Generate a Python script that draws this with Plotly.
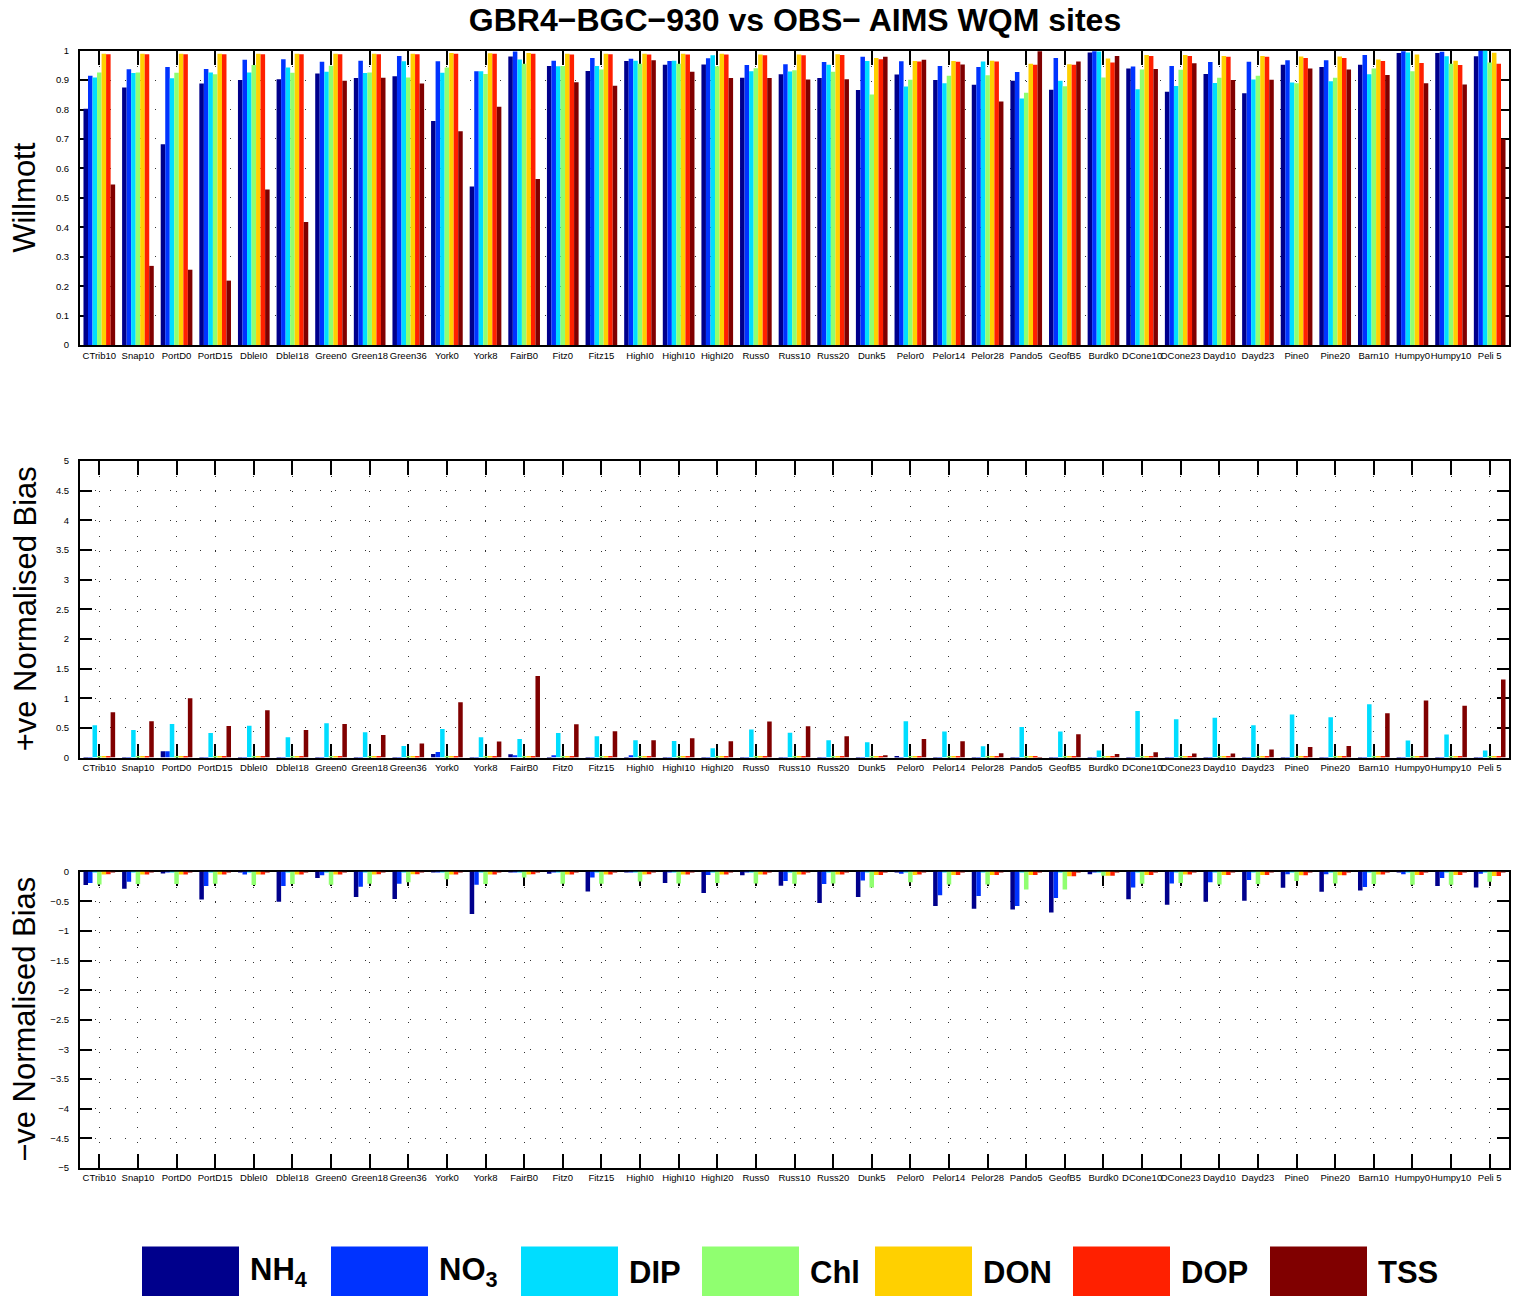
import plotly.graph_objects as go

# ---------------------------------------------------------------- data
sites = ["CTrib10", "Snap10", "PortD0", "PortD15", "DbleI0", "DbleI18", "Green0",
         "Green18", "Green36", "York0", "York8", "FairB0", "Fitz0", "Fitz15",
         "HighI0", "HighI10", "HighI20", "Russ0", "Russ10", "Russ20", "Dunk5",
         "Pelor0", "Pelor14", "Pelor28", "Pando5", "GeofB5", "Burdk0", "DCone10",
         "DCone23", "Dayd10", "Dayd23", "Pine0", "Pine20", "Barn10", "Humpy0",
         "Humpy10", "Peli 5"]

variables = ["NH<sub>4</sub>", "NO<sub>3</sub>", "DIP", "Chl", "DON", "DOP", "TSS"]

# Willmott skill score
will_nh4 = [0.803, 0.875, 0.682, 0.888, 0.900, 0.903, 0.922, 0.907, 0.913, 0.761, 0.539, 0.980, 0.948,
            0.931, 0.965, 0.952, 0.953, 0.908, 0.920, 0.907, 0.866, 0.919, 0.900, 0.884, 0.898, 0.867,
            0.994, 0.939, 0.860, 0.921, 0.855, 0.952, 0.944, 0.952, 0.992, 0.992, 0.981]
will_no3 = [0.915, 0.937, 0.944, 0.938, 0.969, 0.971, 0.962, 0.966, 0.982, 0.964, 0.930, 0.997, 0.966,
            0.975, 0.972, 0.965, 0.974, 0.951, 0.954, 0.961, 0.979, 0.964, 0.948, 0.944, 0.927, 0.975,
            0.998, 0.946, 0.948, 0.961, 0.962, 0.967, 0.967, 0.985, 0.998, 0.996, 1.000]
will_dip = [0.909, 0.924, 0.906, 0.926, 0.926, 0.943, 0.928, 0.924, 0.964, 0.925, 0.930, 0.970, 0.947,
            0.948, 0.966, 0.966, 0.984, 0.930, 0.929, 0.952, 0.965, 0.878, 0.889, 0.963, 0.837, 0.898,
            0.997, 0.869, 0.880, 0.890, 0.902, 0.892, 0.896, 0.920, 0.994, 0.981, 1.000]
will_chl = [0.926, 0.926, 0.925, 0.920, 0.951, 0.925, 0.949, 0.926, 0.909, 0.943, 0.921, 0.955, 0.948,
            0.936, 0.955, 0.955, 0.947, 0.940, 0.933, 0.928, 0.851, 0.901, 0.915, 0.916, 0.857, 0.879,
            0.909, 0.936, 0.935, 0.908, 0.915, 0.889, 0.908, 0.939, 0.930, 0.955, 0.960]
will_don = [0.989, 0.989, 0.989, 0.989, 0.989, 0.989, 0.989, 0.989, 0.989, 0.992, 0.991, 0.992, 0.989,
            0.989, 0.989, 0.989, 0.989, 0.987, 0.987, 0.988, 0.975, 0.965, 0.965, 0.966, 0.955, 0.954,
            0.973, 0.985, 0.985, 0.982, 0.982, 0.980, 0.980, 0.970, 0.987, 0.966, 0.993]
will_dop = [0.988, 0.988, 0.988, 0.988, 0.988, 0.988, 0.988, 0.988, 0.988, 0.989, 0.989, 0.989, 0.987,
            0.988, 0.987, 0.987, 0.987, 0.984, 0.984, 0.985, 0.971, 0.963, 0.962, 0.963, 0.952, 0.952,
            0.960, 0.982, 0.982, 0.979, 0.979, 0.975, 0.975, 0.965, 0.958, 0.951, 0.955]
will_tss = [0.545, 0.269, 0.256, 0.219, 0.528, 0.418, 0.898, 0.908, 0.888, 0.726, 0.809, 0.564, 0.893,
            0.881, 0.967, 0.928, 0.907, 0.907, 0.902, 0.903, 0.979, 0.969, 0.953, 0.827, 0.998, 0.963,
            0.982, 0.938, 0.957, 0.900, 0.901, 0.939, 0.936, 0.917, 0.889, 0.885, 0.699]

# positive normalised bias
pos_nh4 = [0.005, 0.005, 0.107, 0.005, 0.005, 0.005, 0.005, 0.005, 0.005, 0.062, 0.005, 0.056, 0.005,
           0.005, 0.005, 0.005, 0.005, 0.005, 0.005, 0.005, 0.005, 0.028, 0.005, 0.005, 0.005, 0.005,
           0.005, 0.005, 0.005, 0.005, 0.005, 0.005, 0.005, 0.005, 0.005, 0.005, 0.005]
pos_no3 = [0.008, 0.005, 0.107, 0.005, 0.005, 0.005, 0.005, 0.005, 0.005, 0.096, 0.005, 0.040, 0.040,
           0.005, 0.040, 0.005, 0.005, 0.005, 0.005, 0.005, 0.005, 0.005, 0.005, 0.005, 0.005, 0.005,
           0.005, 0.005, 0.005, 0.005, 0.005, 0.005, 0.005, 0.005, 0.005, 0.005, 0.005]
pos_dip = [0.545, 0.466, 0.567, 0.416, 0.539, 0.343, 0.579, 0.427, 0.197, 0.483, 0.343, 0.315, 0.416,
           0.360, 0.292, 0.281, 0.157, 0.472, 0.421, 0.292, 0.258, 0.612, 0.438, 0.191, 0.517, 0.438,
           0.118, 0.787, 0.646, 0.674, 0.545, 0.725, 0.680, 0.899, 0.287, 0.388, 0.118]
pos_chl = [0.010, 0.010, 0.010, 0.010, 0.010, 0.010, 0.010, 0.010, 0.010, 0.010, 0.010, 0.010, 0.010,
           0.010, 0.010, 0.010, 0.010, 0.010, 0.010, 0.010, 0.010, 0.010, 0.010, 0.010, 0.010, 0.010,
           0.010, 0.010, 0.010, 0.010, 0.010, 0.010, 0.010, 0.010, 0.010, 0.010, 0.010]
pos_don = [0.010, 0.010, 0.010, 0.010, 0.010, 0.010, 0.010, 0.010, 0.010, 0.010, 0.010, 0.010, 0.010,
           0.010, 0.010, 0.010, 0.010, 0.010, 0.010, 0.010, 0.010, 0.010, 0.010, 0.010, 0.010, 0.010,
           0.010, 0.010, 0.010, 0.010, 0.010, 0.010, 0.010, 0.010, 0.010, 0.010, 0.010]
pos_dop = [0.010, 0.010, 0.010, 0.010, 0.010, 0.010, 0.010, 0.010, 0.010, 0.010, 0.010, 0.010, 0.010,
           0.010, 0.010, 0.010, 0.010, 0.010, 0.010, 0.010, 0.010, 0.010, 0.010, 0.010, 0.010, 0.010,
           0.010, 0.010, 0.010, 0.010, 0.010, 0.010, 0.010, 0.010, 0.010, 0.010, 0.010]
pos_tss = [0.764, 0.612, 1.000, 0.534, 0.798, 0.466, 0.567, 0.382, 0.236, 0.933, 0.270, 1.376, 0.562,
           0.444, 0.292, 0.326, 0.275, 0.607, 0.528, 0.360, 0.040, 0.315, 0.275, 0.073, 0.005, 0.393,
           0.062, 0.090, 0.067, 0.067, 0.135, 0.180, 0.197, 0.747, 0.961, 0.876, 1.315]

# negative normalised bias
neg_nh4 = [-0.227, -0.290, -0.017, -0.470, -0.010, -0.510, -0.108, -0.430, -0.460, -0.010, -0.716, -0.005,
           -0.034, -0.335, -0.010, -0.190, -0.360, -0.062, -0.240, -0.530, -0.426, -0.010, -0.580, -0.625,
           -0.640, -0.690, -0.045, -0.466, -0.557, -0.510, -0.490, -0.273, -0.340, -0.320, -0.010, -0.244,
           -0.267]
neg_no3 = [-0.193, -0.170, -0.010, -0.244, -0.050, -0.244, -0.062, -0.256, -0.205, -0.010, -0.220, -0.010,
           -0.010, -0.100, -0.010, -0.010, -0.057, -0.010, -0.160, -0.210, -0.148, -0.034, -0.400, -0.410,
           -0.580, -0.443, -0.010, -0.267, -0.200, -0.180, -0.142, -0.045, -0.045, -0.260, -0.045, -0.108,
           -0.034]
neg_dip = [-0.012, -0.012, -0.012, -0.012, -0.012, -0.012, -0.012, -0.012, -0.012, -0.012, -0.012, -0.012,
           -0.012, -0.012, -0.012, -0.012, -0.012, -0.012, -0.012, -0.012, -0.012, -0.012, -0.012, -0.012,
           -0.012, -0.012, -0.012, -0.012, -0.012, -0.012, -0.012, -0.012, -0.012, -0.012, -0.012, -0.012,
           -0.012]
neg_chl = [-0.216, -0.210, -0.210, -0.205, -0.227, -0.210, -0.220, -0.205, -0.180, -0.130, -0.210, -0.100,
           -0.205, -0.205, -0.165, -0.200, -0.190, -0.200, -0.205, -0.200, -0.267, -0.180, -0.216, -0.216,
           -0.300, -0.300, -0.068, -0.205, -0.193, -0.216, -0.210, -0.160, -0.200, -0.210, -0.220, -0.220,
           -0.170]
neg_don = [-0.050, -0.050, -0.050, -0.050, -0.050, -0.050, -0.050, -0.050, -0.045, -0.050, -0.048, -0.050,
           -0.048, -0.048, -0.050, -0.048, -0.048, -0.050, -0.048, -0.048, -0.055, -0.055, -0.055, -0.055,
           -0.055, -0.080, -0.070, -0.055, -0.050, -0.055, -0.055, -0.060, -0.060, -0.050, -0.055, -0.055,
           -0.075]
neg_dop = [-0.045, -0.050, -0.050, -0.050, -0.050, -0.050, -0.050, -0.045, -0.045, -0.050, -0.048, -0.045,
           -0.048, -0.048, -0.045, -0.048, -0.048, -0.050, -0.048, -0.048, -0.055, -0.050, -0.055, -0.055,
           -0.055, -0.080, -0.070, -0.055, -0.050, -0.055, -0.055, -0.060, -0.060, -0.050, -0.055, -0.055,
           -0.075]
neg_tss = [-0.005, -0.005, -0.005, -0.005, -0.005, -0.005, -0.005, -0.005, -0.005, -0.005, -0.005, -0.005,
           -0.005, -0.005, -0.005, -0.005, -0.005, -0.005, -0.005, -0.005, -0.005, -0.005, -0.005, -0.005,
           -0.005, -0.005, -0.005, -0.005, -0.005, -0.005, -0.005, -0.005, -0.005, -0.005, -0.005, -0.005,
           -0.005]

willmott = [will_nh4, will_no3, will_dip, will_chl, will_don, will_dop, will_tss]
pos_bias = [pos_nh4, pos_no3, pos_dip, pos_chl, pos_don, pos_dop, pos_tss]
neg_bias = [neg_nh4, neg_no3, neg_dip, neg_chl, neg_don, neg_dop, neg_tss]

# ---------------------------------------------------------------- style
jet7 = ["#00008c", "#0033ff", "#00ddff", "#90ff70", "#ffd000", "#ff2000", "#800000"]
FONT = "Liberation Sans, Arial, Helvetica, sans-serif"
W, H = 1514, 1302


def px(x):
    return x / W


def py(y):
    return 1 - y / H


X_DOMAIN = [px(80), px(1509)]
panel_rows = [(45, 342), (459, 758), (873, 1172)]   # pixel top/bottom of each axes box

fig = go.Figure()

panels = [(willmott, "x", "y"), (pos_bias, "x2", "y2"), (neg_bias, "x3", "y3")]
for data, xa, ya in panels:
    for name, color, vals in zip(variables, jet7, data):
        fig.add_trace(go.Bar(
            x=sites, y=vals, name=name, marker=dict(color=color, line=dict(width=0)),
            xaxis=xa, yaxis=ya, showlegend=False,
        ))

xaxis_style = dict(
    domain=X_DOMAIN, type="category", range=[-0.5, len(sites) - 0.5],
    showline=True, linecolor="black", linewidth=2, mirror="ticks",
    ticks="inside", ticklen=14, tickwidth=1.5, tickcolor="black",
    showgrid=True, gridcolor="#333333", gridwidth=1, griddash="1px,14px",
    tickfont=dict(family=FONT, size=9.5, color="black"), tickangle=0,
    layer="below traces", fixedrange=True,
)
yaxis_style = dict(
    showline=True, linecolor="black", linewidth=2, mirror="ticks",
    ticks="inside", ticklen=12, tickwidth=1.5, tickcolor="black",
    showgrid=True, gridcolor="#333333", gridwidth=1, griddash="1px,14px",
    zeroline=False, tickfont=dict(family=FONT, size=9.5, color="black"),
    ticklabelstandoff=7, layer="below traces", fixedrange=True,
)

y_ranges = [([0, 1], 0.1), ([0, 5], 0.5), ([-5, 0], 0.5)]
for i, ((top, bottom), (rng, step)) in enumerate(zip(panel_rows, y_ranges)):
    sfx = "" if i == 0 else str(i + 1)
    fig.layout["xaxis" + sfx] = dict(xaxis_style, anchor="y" + sfx)
    fig.layout["yaxis" + sfx] = dict(yaxis_style, anchor="x" + sfx,
                                     domain=[py(bottom), py(top)], range=rng, dtick=step)

# y-axis titles
y_titles = ["Willmott", "+ve Normalised Bias", "\u2212ve Normalised Bias"]
annotations = []
for title, (top, bottom) in zip(y_titles, panel_rows):
    annotations.append(dict(
        text=title, x=px(25), y=py((top + bottom) / 2), xref="paper", yref="paper",
        xanchor="center", yanchor="middle", textangle=-90, showarrow=False,
        font=dict(family=FONT, size=31, color="black"),
    ))

# legend: large colour swatches with bold labels along the bottom
legend_left = [142, 331, 521, 702, 875, 1073, 1270]
swatch_w, swatch_top, swatch_bottom = 97, 1251, 1301
shapes = []
for name, color, left in zip(variables, jet7, legend_left):
    shapes.append(dict(
        type="rect", xref="paper", yref="paper",
        x0=px(left), x1=px(left + swatch_w), y0=py(swatch_bottom), y1=py(swatch_top),
        fillcolor=color, line=dict(width=0),
    ))
    annotations.append(dict(
        text="<b>%s</b>" % name, x=px(left + swatch_w + 9), y=py(1277),
        xref="paper", yref="paper", xanchor="left", yanchor="middle", showarrow=False,
        font=dict(family=FONT, size=31, color="black"),
    ))

fig.update_layout(
    width=W, height=H,
    margin=dict(l=0, r=0, t=0, b=0),
    paper_bgcolor="white", plot_bgcolor="white",
    barmode="group", bargap=0.18, bargroupgap=0,
    title=dict(text="<b>GBR4\u2212BGC\u2212930 vs OBS\u2212 AIMS WQM sites</b>",
               x=px(795), xanchor="center", y=py(20), yanchor="middle",
               xref="paper", yref="container",
               font=dict(family=FONT, size=32, color="black")),
    annotations=annotations, shapes=shapes,
    font=dict(family=FONT, color="black"),
)

fig.write_html("out.html")
